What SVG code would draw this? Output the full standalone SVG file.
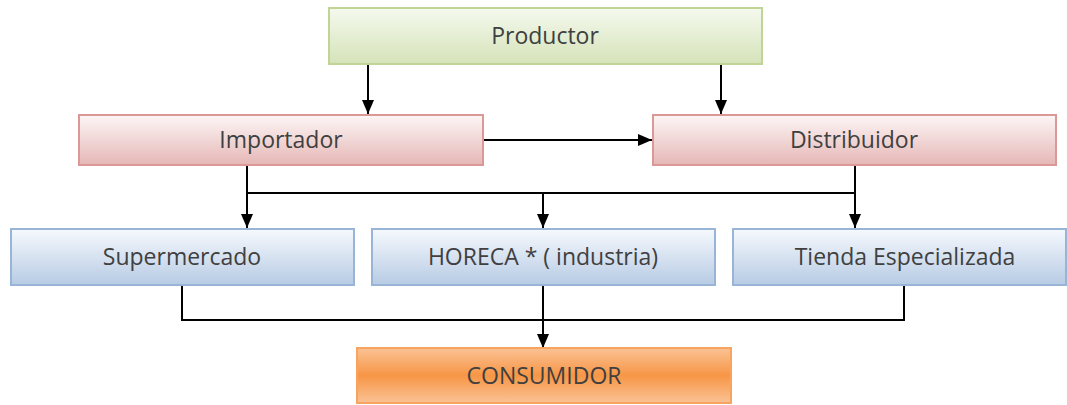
<svg xmlns="http://www.w3.org/2000/svg" width="1067" height="405" viewBox="0 0 1067 405">
<style>
.lbl{font-family:"Open Sans","Noto Sans",sans-serif;font-size:23px;fill:#404040;text-anchor:middle}
.cn{fill:none;stroke:#000;stroke-width:2}
</style>
<defs>
<linearGradient id="gG" x1="0" y1="0" x2="0" y2="1"><stop offset="0" stop-color="#f5f9ee"/><stop offset="1" stop-color="#d5e3b9"/></linearGradient>
<linearGradient id="gR" x1="0" y1="0" x2="0" y2="1"><stop offset="0" stop-color="#fdf6f6"/><stop offset="1" stop-color="#e5b7b6"/></linearGradient>
<linearGradient id="gB" x1="0" y1="0" x2="0" y2="1"><stop offset="0" stop-color="#f6f9fd"/><stop offset="1" stop-color="#b7cbe4"/></linearGradient>
<linearGradient id="gO" x1="0" y1="0" x2="0" y2="1"><stop offset="0" stop-color="#fac295"/><stop offset="0.5" stop-color="#f79646"/><stop offset="1" stop-color="#fac295"/></linearGradient>
<marker id="ah" markerUnits="userSpaceOnUse" markerWidth="14" markerHeight="14" viewBox="0 0 14 14" refX="14" refY="7" orient="auto"><path d="M0,1 L14,7 L0,13 Z" fill="#000"/></marker>
</defs>
<g id="connectors">
<line class="cn" x1="368" y1="64" x2="368" y2="114" marker-end="url(#ah)"/>
<line class="cn" x1="721" y1="64" x2="721" y2="114" marker-end="url(#ah)"/>
<line class="cn" x1="483" y1="140" x2="652" y2="140" marker-end="url(#ah)"/>
<polyline class="cn" points="247,165 247,193 855,193"/>
<line class="cn" x1="855" y1="165" x2="855" y2="228" marker-end="url(#ah)"/>
<line class="cn" x1="247" y1="193" x2="247" y2="228" marker-end="url(#ah)"/>
<line class="cn" x1="543" y1="193" x2="543" y2="228" marker-end="url(#ah)"/>
<polyline class="cn" points="182,286 182,320 904,320 904,286"/>
<line class="cn" x1="543" y1="286" x2="543" y2="348" marker-end="url(#ah)"/>
</g>
<g id="productor"><rect x="329" y="8" width="433" height="56" fill="url(#gG)" stroke="#c0d595" stroke-width="2"/><text class="lbl" x="545" y="44">Productor</text></g>
<g id="importador"><rect x="79" y="115" width="404" height="50" fill="url(#gR)" stroke="#da9997" stroke-width="2"/><text class="lbl" x="281" y="148">Importador</text></g>
<g id="distribuidor"><rect x="653" y="115" width="403" height="50" fill="url(#gR)" stroke="#da9997" stroke-width="2"/><text class="lbl" x="854" y="148">Distribuidor</text></g>
<g id="supermercado"><rect x="11" y="229" width="343" height="56" fill="url(#gB)" stroke="#98b5d8" stroke-width="2"/><text class="lbl" x="182" y="265">Supermercado</text></g>
<g id="horeca"><rect x="372" y="229" width="343" height="56" fill="url(#gB)" stroke="#98b5d8" stroke-width="2"/><text class="lbl" x="543" y="265">HORECA * ( industria)</text></g>
<g id="tienda"><rect x="733" y="229" width="333" height="56" fill="url(#gB)" stroke="#98b5d8" stroke-width="2"/><text class="lbl" x="905" y="265">Tienda Especializada</text></g>
<g id="consumidor"><rect x="357" y="348" width="374" height="55" fill="url(#gO)" stroke="#f8a461" stroke-width="2"/><text class="lbl" x="544" y="384">CONSUMIDOR</text></g>
</svg>
